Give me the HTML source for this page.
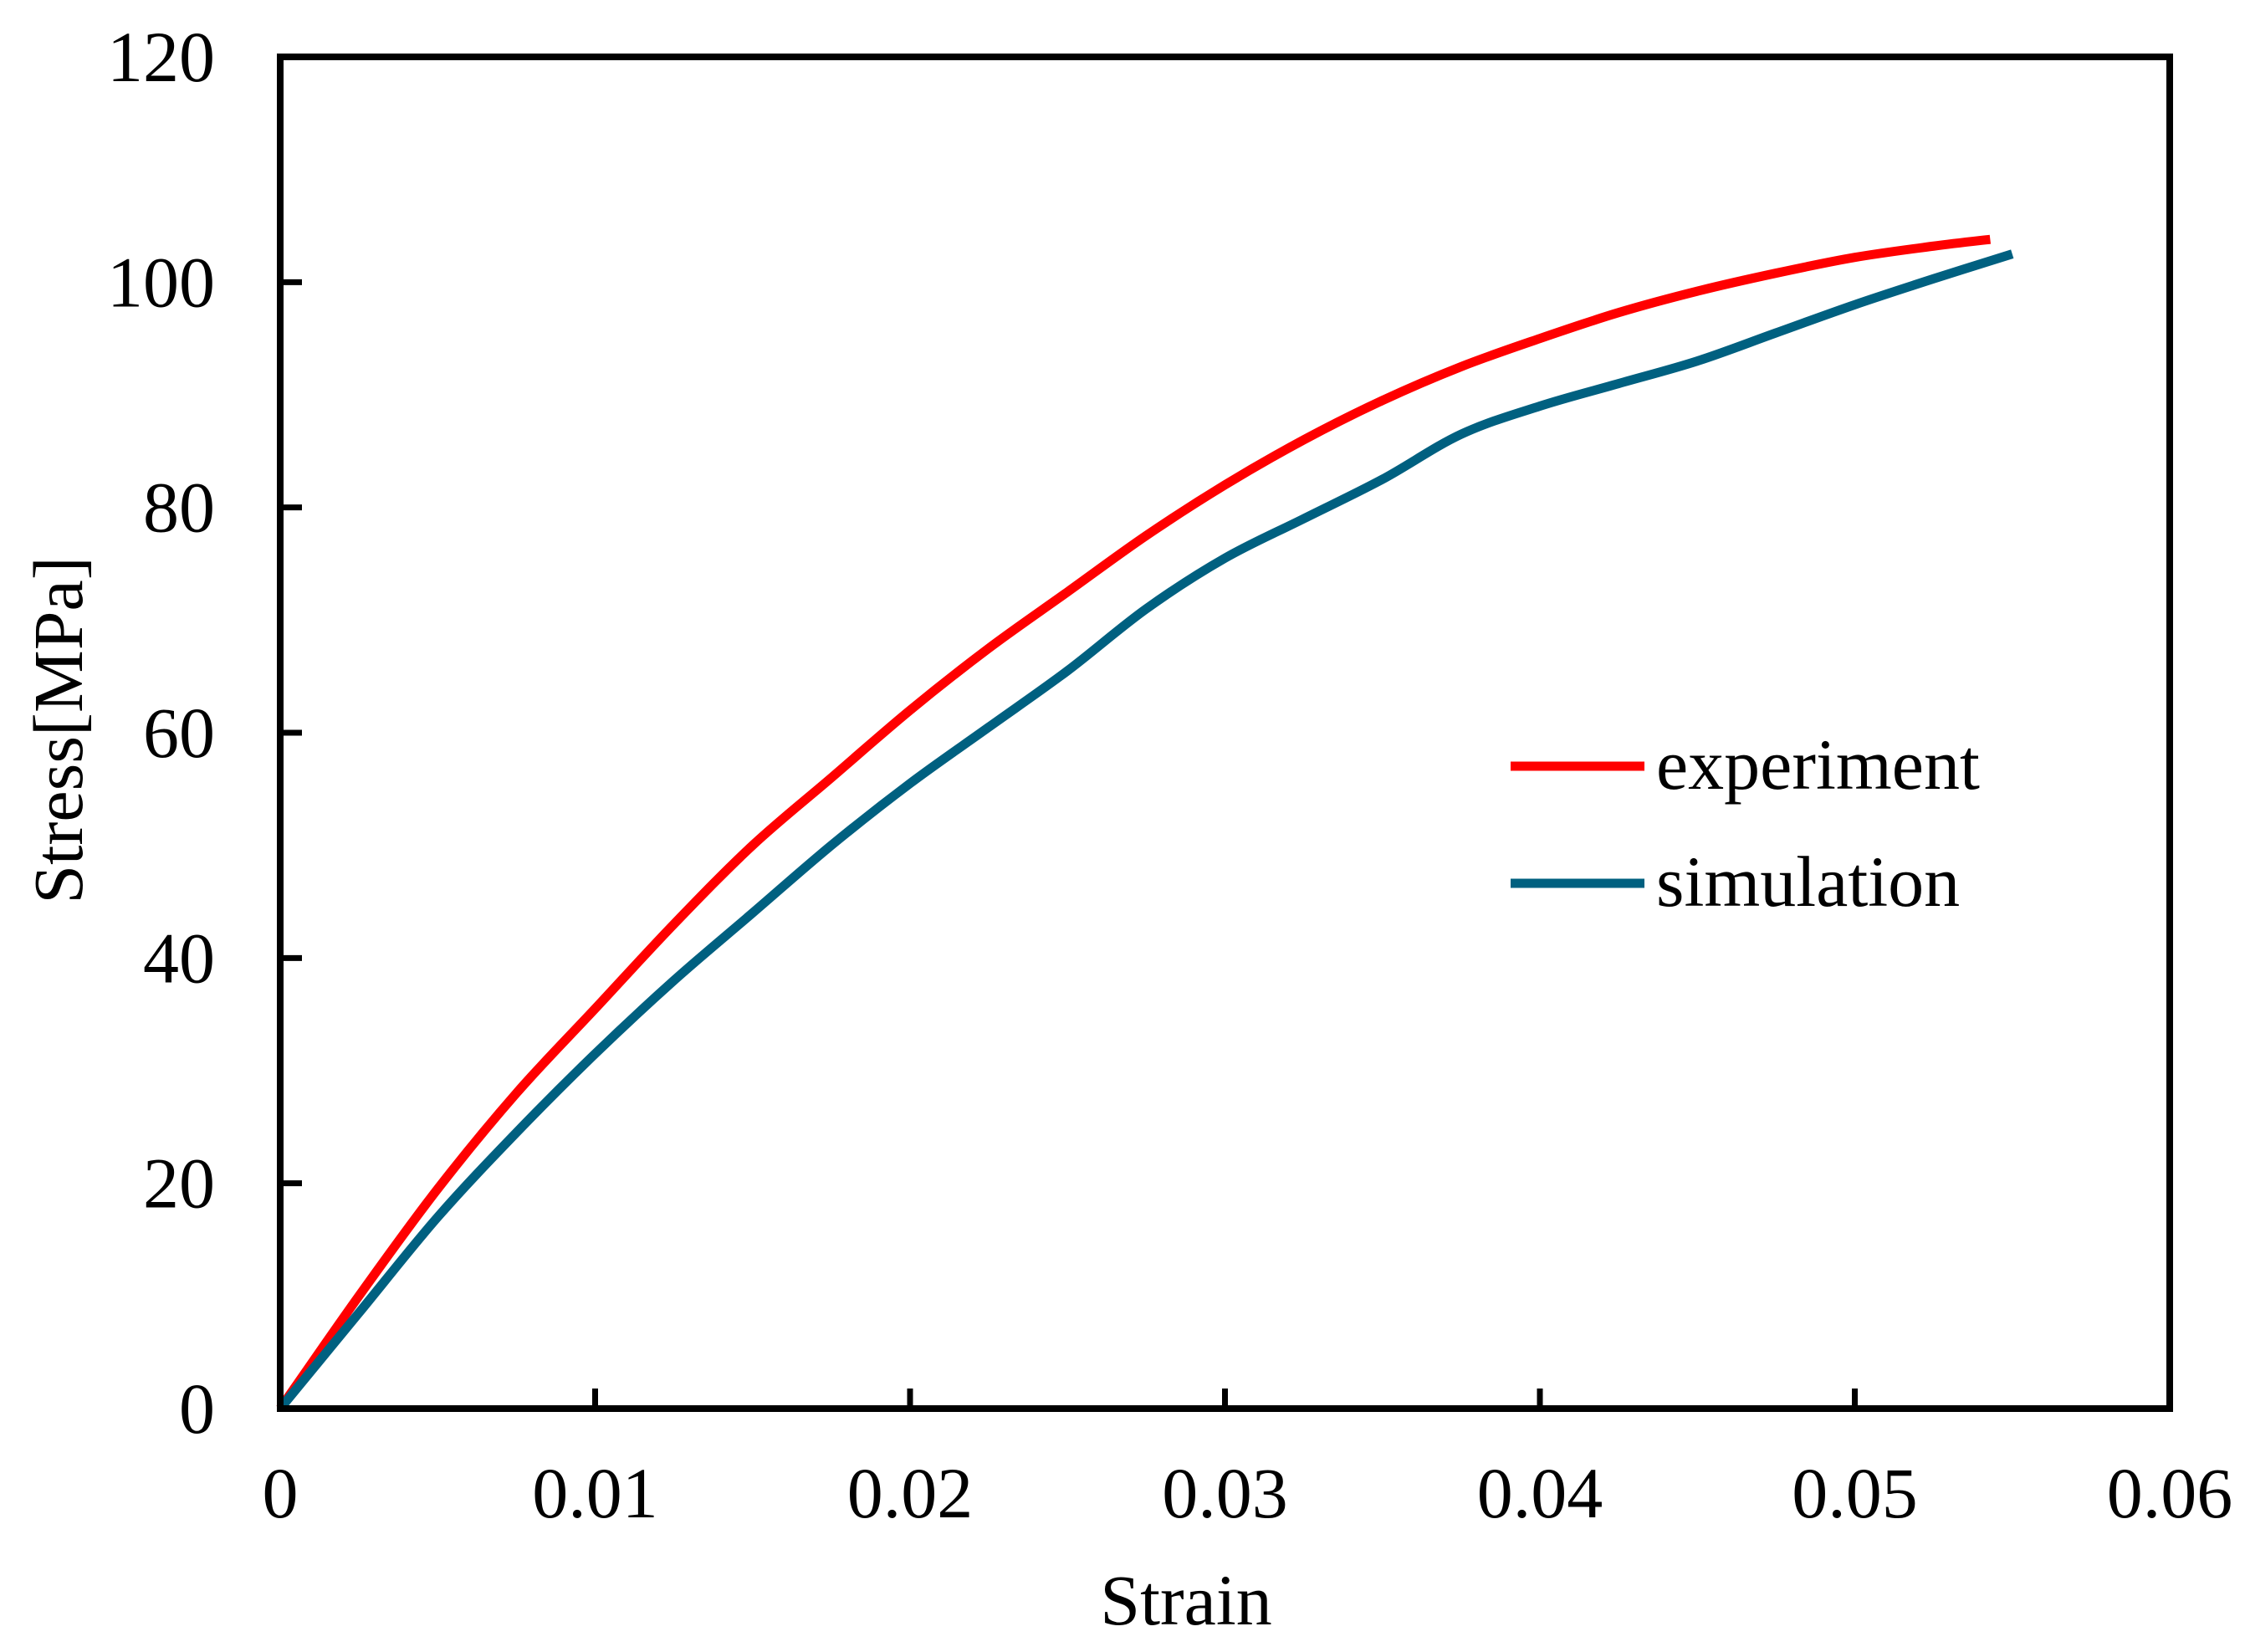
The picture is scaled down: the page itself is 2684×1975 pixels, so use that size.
<!DOCTYPE html>
<html><head><meta charset="utf-8"><style>
html,body{margin:0;padding:0;background:#fff;}
svg{display:block;font-family:"Liberation Serif",serif;}
</style></head><body>
<svg id="chart" width="2684" height="1975" viewBox="0 0 2684 1975" xmlns="http://www.w3.org/2000/svg">
<rect x="0" y="0" width="2684" height="1975" fill="#fff"/>
<g id="marks"></g>
<g id="axes"></g>
<text x="1418" y="1942" font-size="86" text-anchor="middle">Strain</text>
<text transform="translate(98,873) rotate(-90)" font-size="84" text-anchor="middle">Stress[MPa]</text>
<g>
<line x1="1806" y1="916" x2="1966" y2="916" stroke="#ff0000" stroke-width="11"/>
<text x="1980" y="943" font-size="86">experiment</text>
<line x1="1806" y1="1056" x2="1966" y2="1056" stroke="#006080" stroke-width="11"/>
<text x="1980" y="1083" font-size="86">simulation</text>
</g>
</svg>
<script>
const xTicks = [0, 0.01, 0.02, 0.03, 0.04, 0.05, 0.06];
const xTickLabels = ["0", "0.01", "0.02", "0.03", "0.04", "0.05", "0.06"];
const yTicks = [0, 20, 40, 60, 80, 100, 120];
const yTickLabels = ["0", "20", "40", "60", "80", "100", "120"];
const expStrain = [0, 0.0025, 0.005, 0.0075, 0.01, 0.0125, 0.015, 0.0175, 0.02, 0.0225, 0.025, 0.0275, 0.03, 0.0325, 0.035, 0.0375, 0.04, 0.0425, 0.045, 0.0475, 0.05, 0.0525, 0.0543];
const expStress = [0, 10, 19.5, 28, 35.5, 43, 50, 56, 62, 67.5, 72.5, 77.5, 82, 86, 89.5, 92.5, 95, 97.3, 99.2, 100.8, 102.2, 103.2, 103.8];
const simStrain = [0, 0.0025, 0.005, 0.0075, 0.01, 0.0125, 0.015, 0.0175, 0.02, 0.0225, 0.025, 0.0275, 0.03, 0.0325, 0.035, 0.0375, 0.04, 0.0425, 0.045, 0.0475, 0.05, 0.0525, 0.055];
const simStress = [0, 8.5, 17, 24.5, 31.5, 38, 44, 50, 55.5, 60.5, 65.5, 71, 75.5, 79, 82.5, 86.5, 89, 91, 93, 95.5, 98, 100.3, 102.5];

const L = 335, R = 2594, T = 68, B = 1684;
const xs = v => L + (v - 0) / 0.06 * (R - L);
const ys = v => B - v / 120 * (B - T);
const NS = "http://www.w3.org/2000/svg";
const marks = document.getElementById('marks');
const axes = document.getElementById('axes');

function pathFrom(xa, ya) {
  const p = xa.map((x, i) => [xs(x), ys(ya[i])]);
  let d = "M" + p[0][0] + "," + p[0][1];
  for (let i = 0; i < p.length - 1; i++) {
    const p0 = p[Math.max(0, i - 1)], p1 = p[i], p2 = p[i + 1], p3 = p[Math.min(p.length - 1, i + 2)];
    const c1x = p1[0] + (p2[0] - p0[0]) / 6, c1y = p1[1] + (p2[1] - p0[1]) / 6;
    const c2x = p2[0] - (p3[0] - p1[0]) / 6, c2y = p2[1] - (p3[1] - p1[1]) / 6;
    d += " C" + c1x + "," + c1y + " " + c2x + "," + c2y + " " + p2[0] + "," + p2[1];
  }
  return d;
}
function addLine(xa, ya, color, name) {
  const el = document.createElementNS(NS, 'path');
  el.setAttribute('d', pathFrom(xa, ya));
  el.setAttribute('fill', 'none');
  el.setAttribute('stroke', color);
  el.setAttribute('stroke-width', '11');
  el.setAttribute('stroke-linejoin', 'round');
  
  
  marks.appendChild(el);
}
addLine(expStrain, expStress, '#ff0000', 'experiment-line');
addLine(simStrain, simStress, '#006080', 'simulation-line');

const frame = document.createElementNS(NS, 'rect');
frame.setAttribute('x', L); frame.setAttribute('y', T);
frame.setAttribute('width', R - L); frame.setAttribute('height', B - T);
frame.setAttribute('fill', 'none'); frame.setAttribute('stroke', '#000'); frame.setAttribute('stroke-width', '8');


axes.appendChild(frame);

xTicks.forEach((v, i) => {
  const x = xs(v);
  if (i > 0 && i < xTicks.length - 1) {
    const t = document.createElementNS(NS, 'line');
    t.setAttribute('x1', x); t.setAttribute('x2', x); t.setAttribute('y1', B); t.setAttribute('y2', B - 24);
    t.setAttribute('stroke', '#000'); t.setAttribute('stroke-width', '7');
    
    
    axes.appendChild(t);
  }
  const tx = document.createElementNS(NS, 'text');
  tx.setAttribute('x', x); tx.setAttribute('y', 1814);
  tx.setAttribute('font-size', '86'); tx.setAttribute('text-anchor', 'middle');
  tx.textContent = xTickLabels[i];
  
  
  axes.appendChild(tx);
});
yTicks.forEach((v, i) => {
  const y = ys(v);
  if (i > 0 && i < yTicks.length - 1) {
    const t = document.createElementNS(NS, 'line');
    t.setAttribute('x1', L); t.setAttribute('x2', L + 26); t.setAttribute('y1', y); t.setAttribute('y2', y);
    t.setAttribute('stroke', '#000'); t.setAttribute('stroke-width', '7');
    
    
    axes.appendChild(t);
  }
  const tx = document.createElementNS(NS, 'text');
  tx.setAttribute('x', 257); tx.setAttribute('y', y + 29);
  tx.setAttribute('font-size', '86'); tx.setAttribute('text-anchor', 'end');
  tx.textContent = yTickLabels[i];
  
  
  axes.appendChild(tx);
});
</script>
</body></html>
